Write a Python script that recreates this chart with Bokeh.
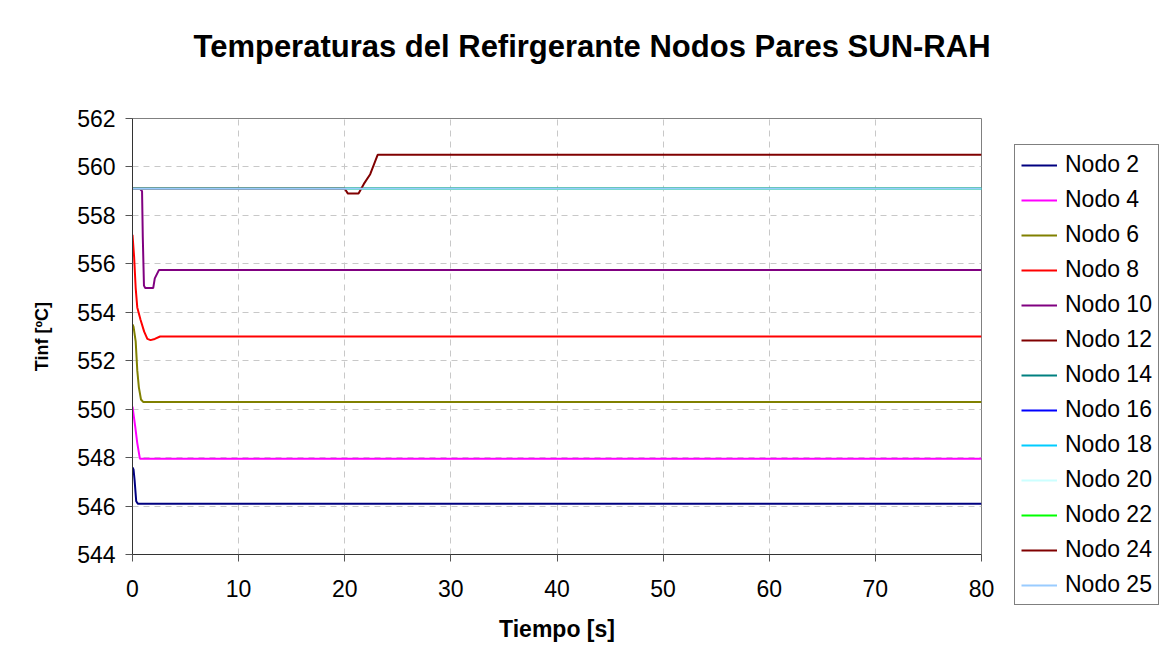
from bokeh.plotting import figure
from bokeh.models import Legend, LegendItem, Range1d, FixedTicker, Title
from bokeh.embed import file_html
from bokeh.resources import INLINE

# ---- data ----
t_n2 = [0, 0.1, 0.2, 0.35, 0.5, 80]
v_n2 = [547.6, 547.5, 547.05, 546.2, 546.1, 546.1]

t_n4 = [0, 0.25, 0.45, 0.7, 80]
v_n4 = [550.1, 549.3, 548.6, 547.95, 547.95]

t_n6 = [0, 0.1, 0.3, 0.45, 0.6, 0.8, 1.0, 80]
v_n6 = [553.5, 553.4, 552.8, 551.6, 550.9, 550.4, 550.3, 550.3]

t_n8 = [0, 0.15, 0.3, 0.45, 0.75, 1.1, 1.4, 1.7, 2.1, 2.6, 80]
v_n8 = [557.2, 556.3, 555.0, 554.2, 553.7, 553.2, 552.9, 552.85, 552.9, 553.0, 553.0]

t_n10 = [0, 0.7, 0.9, 0.97, 1.08, 1.2, 1.95, 2.1, 2.5, 80]
v_n10 = [559.1, 559.1, 559.0, 557.1, 555.1, 555.0, 555.0, 555.4, 555.75, 555.75]

t_flat = [0, 80]
v_n12 = [559.1, 559.1]
v_n14 = [559.1, 559.1]
v_n16 = [559.1, 559.1]
v_n18 = [559.1, 559.1]
v_n20 = [559.1, 559.1]
v_n22 = [559.1, 559.1]

t_n24 = [0, 20.0, 20.3, 21.3, 21.8, 22.4, 23.1, 80]
v_n24 = [559.1, 559.1, 558.9, 558.9, 559.3, 559.7, 560.5, 560.5]

v_n25 = [559.1, 559.1]

names = ["Nodo 2", "Nodo 4", "Nodo 6", "Nodo 8", "Nodo 10", "Nodo 12", "Nodo 14",
         "Nodo 16", "Nodo 18", "Nodo 20", "Nodo 22", "Nodo 24", "Nodo 25"]
colors = ["#000080", "#FF00FF", "#808000", "#FF0000", "#800080", "#800000", "#008080",
          "#0000FF", "#00CCFF", "#CCFFFF", "#00FF00", "#800000", "#99CCFF"]

x_ticks = [0, 10, 20, 30, 40, 50, 60, 70, 80]
y_ticks = [544, 546, 548, 550, 552, 554, 556, 558, 560, 562]

series = [
    (t_n2, v_n2), (t_n4, v_n4), (t_n6, v_n6), (t_n8, v_n8), (t_n10, v_n10),
    (t_flat, v_n12), (t_flat, v_n14), (t_flat, v_n16), (t_flat, v_n18),
    (t_flat, v_n20), (t_flat, v_n22), (t_n24, v_n24), (t_flat, v_n25),
]

FONT = "Liberation Sans"

p = figure(frame_width=849, frame_height=436,
           min_border_left=132, min_border_right=178, min_border_top=118, min_border_bottom=101,
           output_backend="svg", toolbar_location=None,
           x_range=Range1d(0, 80), y_range=Range1d(544, 562))
p.background_fill_color = "white"
p.border_fill_color = "white"
p.outline_line_color = "#808080"
p.outline_line_width = 1

# spacer between frame and title
p.add_layout(Title(text=" ", text_font_size="2px", standoff=46), "above")

# title
p.title.text = "Temperaturas del Refirgerante Nodos Pares SUN-RAH"
p.title.text_font = FONT
p.title.text_font_size = "31px"
p.title.text_font_style = "bold"
p.title.text_color = "black"
p.title.align = "left"
p.title.offset = 61
p.title.standoff = 10

# grid
p.xgrid.ticker = FixedTicker(ticks=x_ticks)
p.ygrid.ticker = FixedTicker(ticks=y_ticks)
for g in (p.xgrid, p.ygrid):
    g.grid_line_color = "#c8c8c8"
    g.grid_line_dash = "6 5"
    g.grid_line_width = 1

# axes
p.xaxis.ticker = FixedTicker(ticks=x_ticks)
p.yaxis.ticker = FixedTicker(ticks=y_ticks)
for ax in (p.xaxis, p.yaxis):
    ax.axis_line_color = "#333333"
    ax.axis_line_width = 1
    ax.major_tick_line_color = "#555555"
    ax.major_tick_out = 7
    ax.major_tick_in = 0
    ax.minor_tick_line_color = None
    ax.major_label_text_font = FONT
    ax.major_label_text_font_size = "23px"
    ax.major_label_text_color = "black"
    ax.axis_label_text_font = FONT
    ax.axis_label_text_font_style = "bold"
    ax.axis_label_text_color = "black"
p.xaxis.axis_label = "Tiempo [s]"
p.yaxis.axis_label = "Tinf [ºC]"
p.xaxis.axis_label_text_font_size = "23px"
p.yaxis.axis_label_text_font_size = "18px"
p.xaxis.major_label_standoff = 18
p.yaxis.major_label_standoff = 10
p.xaxis.axis_label_standoff = 16
p.yaxis.axis_label_standoff = 22

items = []
for (tx, vy), nm, c in zip(series, names, colors):
    r = p.line(tx, vy, line_color=c, line_width=2)
    items.append(LegendItem(label=nm, renderers=[r]))

legend = Legend(items=items, location=(33, -51))
legend.label_text_font = FONT
legend.label_text_font_size = "23px"
legend.label_text_color = "black"
legend.glyph_width = 36
legend.glyph_height = 26
legend.label_height = 26
legend.label_standoff = 8
legend.spacing = 8
legend.padding = 6
legend.margin = 0
legend.border_line_color = "black"
legend.border_line_width = 1
legend.background_fill_color = "white"
legend.background_fill_alpha = 1
p.add_layout(legend, "right")

open("out.html", "w").write(file_html(p, INLINE))
